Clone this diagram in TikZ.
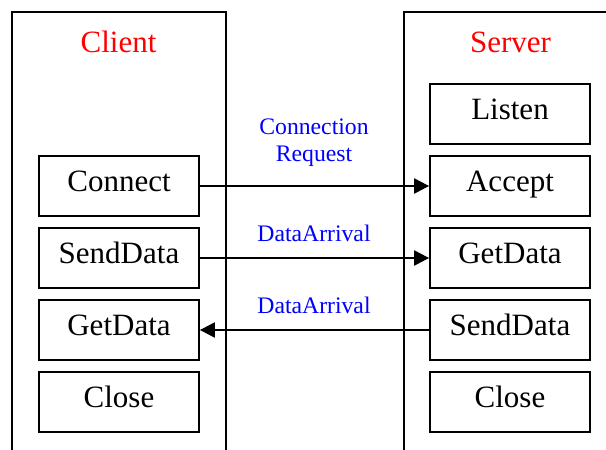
\documentclass[tikz,border=0pt]{standalone}
\usepackage{fontspec}
\setmainfont{Liberation Serif}
\usetikzlibrary{arrows.meta}
\begin{document}
\begin{tikzpicture}[x=1pt,y=-1pt,
  col/.style={line width=2pt},
  opbox/.style={draw,line width=1.8pt,minimum width=160pt,inner sep=0pt,
     text height=35pt,text depth=25pt,font=\fontsize{31}{36}\selectfont},
  title/.style={text=red,anchor=base,inner sep=0pt,font=\fontsize{31}{36}\selectfont},
  lbl/.style={text=blue,anchor=base,inner sep=0pt,font=\fontsize{23.7}{27}\selectfont},
  msg/.style={line width=2.2pt,-{Triangle[length=15pt,width=15pt]}}]
\useasboundingbox (0,0) rectangle (606,450);
\clip (0,0) rectangle (606,450);
% columns
\coordinate (cbl) at (12,460);
\coordinate (ctl) at (12,12);
\coordinate (ctr) at (226,12);
\coordinate (cbr) at (226,460);
\draw[col] (cbl) -- (ctl) -- (ctr) -- (cbr);
\coordinate (sbl) at (403.5,460);
\coordinate (stl) at (403.5,12);
\coordinate (str) at (620,12);
\draw[col] (sbl) -- (stl) -- (str);
% titles
\node[title] (ct) at (118.5,52) {Client};
\node[title] (st) at (510.5,52) {Server};
% client boxes
\node[opbox] (connect) at (119,186) {Connect};
\node[opbox] (csend) at (119,258) {SendData};
\node[opbox] (cget) at (119,330) {GetData};
\node[opbox] (cclose) at (119,402) {Close};
% server boxes
\node[opbox] (listen) at (510,114) {Listen};
\node[opbox] (accept) at (510,186) {Accept};
\node[opbox] (sget) at (510,258) {GetData};
\node[opbox] (ssend) at (510,330) {SendData};
\node[opbox] (sclose) at (510,402) {Close};
% messages
\draw[msg] (connect.east) -- (accept.west);
\draw[msg] (csend.east) -- (sget.west);
\draw[msg] (ssend.west) -- (cget.east);
% labels
\node[lbl] (l1) at (314,134) {Connection};
\node[lbl] (l2) at (314,161.5) {Request};
\node[lbl] (l3) at (314,241.5) {DataArrival};
\node[lbl] (l4) at (314,313) {DataArrival};
\end{tikzpicture}
\end{document}
